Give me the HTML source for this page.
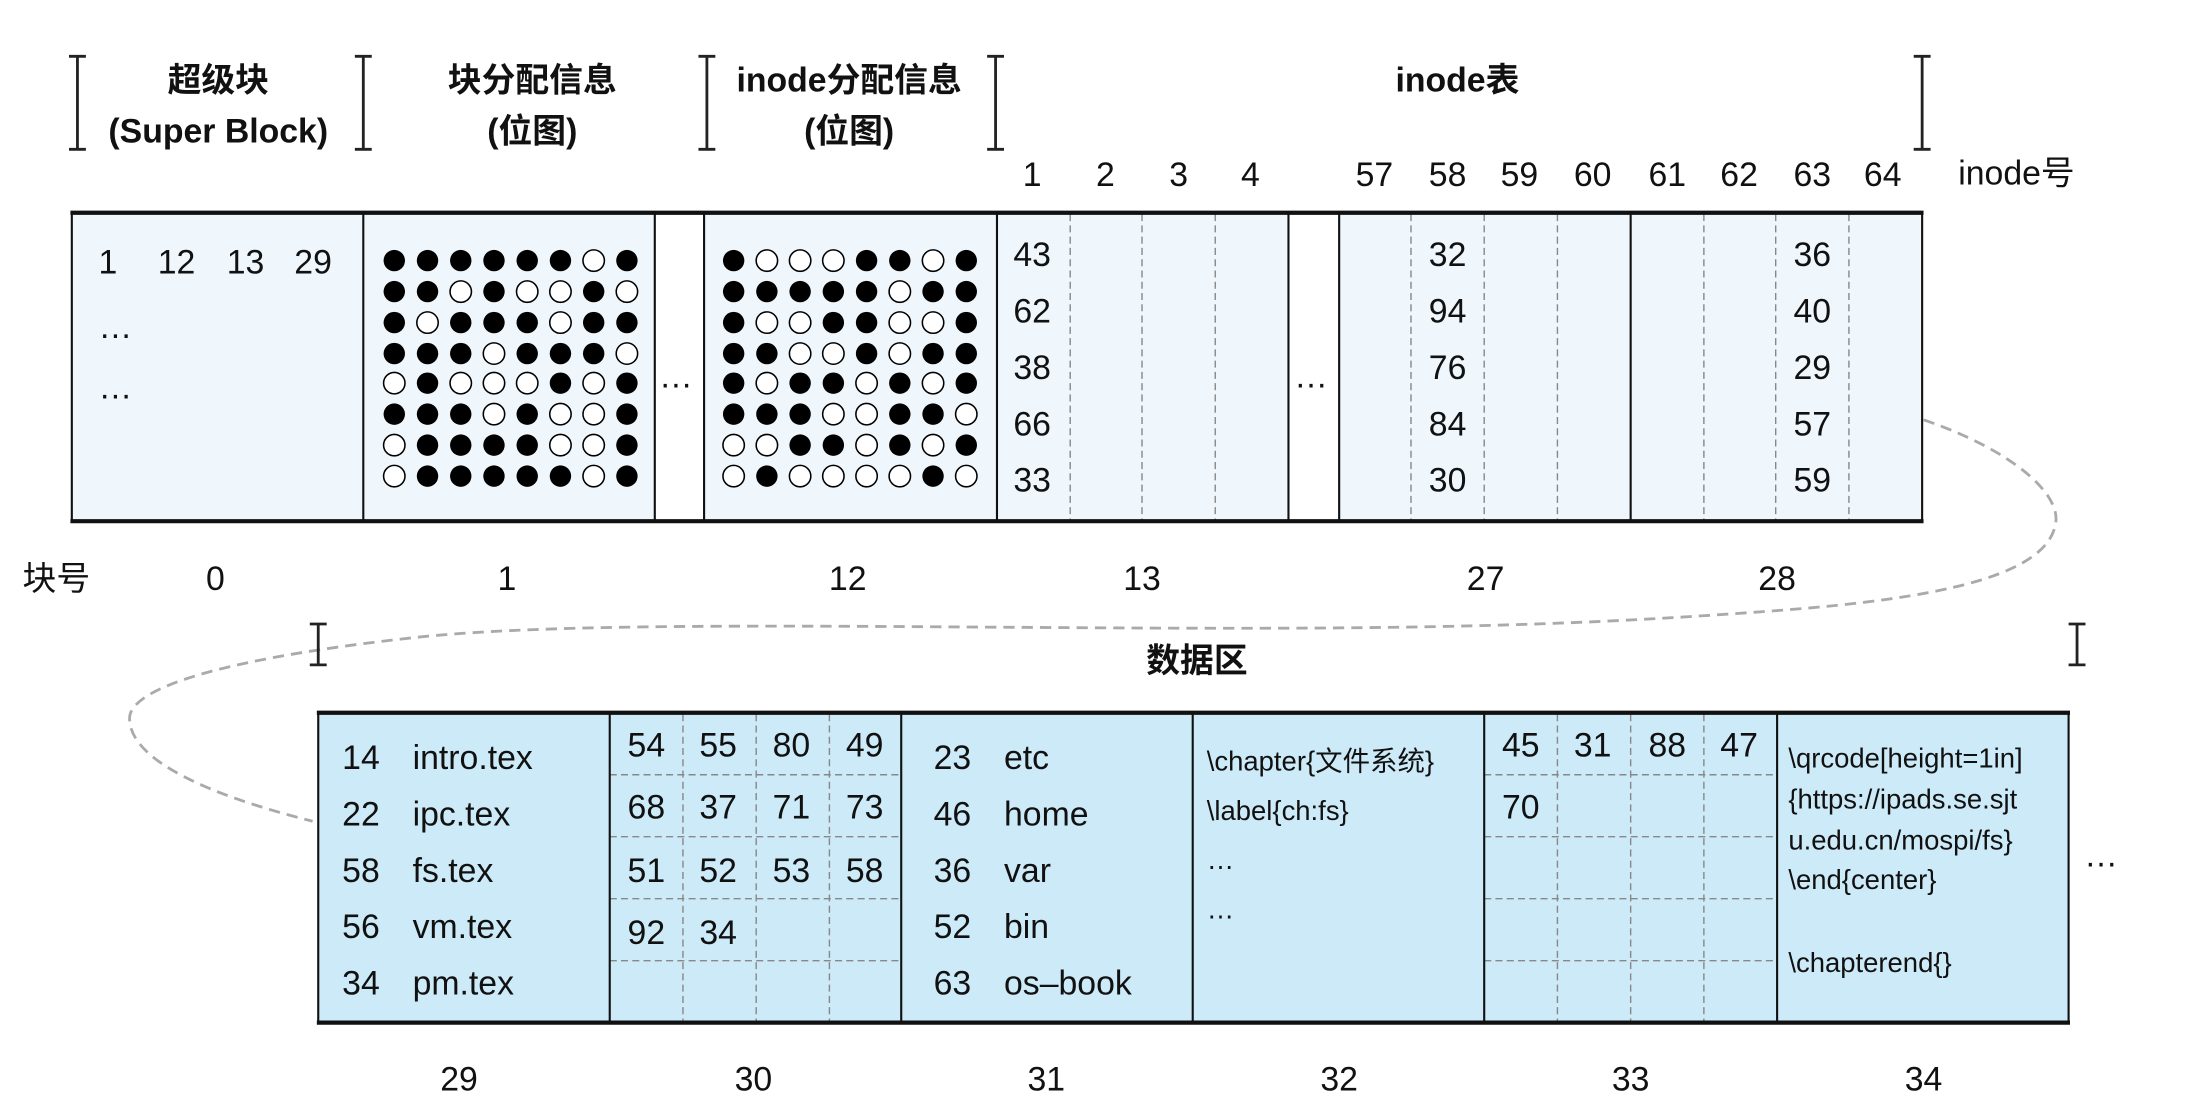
<!DOCTYPE html>
<html><head><meta charset="utf-8"><style>
html,body{margin:0;padding:0;background:#fff}
svg{display:block}
text{font-family:"Liberation Sans","Noto Sans CJK SC",sans-serif;fill:#111}
.b{font-weight:bold}
.f{fill:#000}
.e{fill:#fff;stroke:#000;stroke-width:1.1}
.dl{stroke:#888;stroke-width:1;stroke-dasharray:5 3}
.sl{stroke:#111;stroke-width:1.5}
</style></head><body>
<svg width="2208" height="1110" viewBox="0 0 1568 788" preserveAspectRatio="none" xmlns="http://www.w3.org/2000/svg">
<rect width="1568" height="788" fill="#fff"/>
<g stroke="#222" stroke-width="2">
<path d="M49,40H61M55,40V106M49,106H61"/>
<path d="M252,40H264M258,40V106M252,106H264"/>
<path d="M496,40H508M502,40V106M496,106H508"/>
<path d="M701,40H713M707,40V106M701,106H713"/>
<path d="M1359,40H1371M1365,40V106M1359,106H1371"/>
</g>
<g font-size="24" text-anchor="middle">
<text class="b" x="155" y="65">超级块</text>
<text class="b" x="155" y="101">(Super Block)</text>
<text class="b" x="378" y="65">块分配信息</text>
<text class="b" x="378" y="101">(位图)</text>
<text class="b" x="603" y="65">inode分配信息</text>
<text class="b" x="603" y="101">(位图)</text>
<text class="b" x="1035" y="65">inode表</text>
</g>
<g font-size="24" text-anchor="middle">
<text x="733" y="132">1</text><text x="785" y="132">2</text><text x="837" y="132">3</text><text x="888" y="132">4</text>
<text x="976" y="132">57</text><text x="1028" y="132">58</text><text x="1079" y="132">59</text><text x="1131" y="132">60</text>
<text x="1184" y="132">61</text><text x="1235" y="132">62</text><text x="1287" y="132">63</text><text x="1337" y="132">64</text>
<text x="1432" y="131">inode号</text>
</g>
<rect x="51" y="151" width="1314" height="219" fill="#eff7fd"/>
<rect x="465" y="151" width="35" height="219" fill="#fff"/>
<rect x="915" y="151" width="36" height="219" fill="#fff"/>
<g class="dl">
<path d="M760,152V369M811,152V369M863,152V369M1002,152V369M1054,152V369M1106,152V369M1210,152V369M1261,152V369M1313,152V369"/>
</g>
<g class="sl">
<path d="M51,151V370M258,151V370M465,151V370M500,151V370M708,151V370M915,151V370M951,151V370M1158,151V370M1365,151V370"/>
</g>
<path d="M50,151H1366M50,370H1366" stroke="#111" stroke-width="3"/>
<g font-size="24">
<text x="70" y="194">1</text><text x="112" y="194">12</text><text x="161" y="194">13</text><text x="209" y="194">29</text>
<text x="70" y="240">…</text><text x="70" y="283">…</text>
<text x="468" y="275">…</text><text x="919" y="275">…</text>
</g>
<g font-size="24" text-anchor="middle">
<text x="733" y="189">43</text><text x="733" y="229">62</text><text x="733" y="269">38</text><text x="733" y="309">66</text><text x="733" y="349">33</text>
<text x="1028" y="189">32</text><text x="1028" y="229">94</text><text x="1028" y="269">76</text><text x="1028" y="309">84</text><text x="1028" y="349">30</text>
<text x="1287" y="189">36</text><text x="1287" y="229">40</text><text x="1287" y="269">29</text><text x="1287" y="309">57</text><text x="1287" y="349">59</text>
</g>
<g>
<circle cx="280" cy="185" r="7.6" class="f"/><circle cx="303.6" cy="185" r="7.6" class="f"/><circle cx="327.2" cy="185" r="7.6" class="f"/><circle cx="350.8" cy="185" r="7.6" class="f"/><circle cx="374.4" cy="185" r="7.6" class="f"/><circle cx="398" cy="185" r="7.6" class="f"/><circle cx="421.6" cy="185" r="7.6" class="e"/><circle cx="445.2" cy="185" r="7.6" class="f"/>
<circle cx="280" cy="207" r="7.6" class="f"/><circle cx="303.6" cy="207" r="7.6" class="f"/><circle cx="327.2" cy="207" r="7.6" class="e"/><circle cx="350.8" cy="207" r="7.6" class="f"/><circle cx="374.4" cy="207" r="7.6" class="e"/><circle cx="398" cy="207" r="7.6" class="e"/><circle cx="421.6" cy="207" r="7.6" class="f"/><circle cx="445.2" cy="207" r="7.6" class="e"/>
<circle cx="280" cy="229" r="7.6" class="f"/><circle cx="303.6" cy="229" r="7.6" class="e"/><circle cx="327.2" cy="229" r="7.6" class="f"/><circle cx="350.8" cy="229" r="7.6" class="f"/><circle cx="374.4" cy="229" r="7.6" class="f"/><circle cx="398" cy="229" r="7.6" class="e"/><circle cx="421.6" cy="229" r="7.6" class="f"/><circle cx="445.2" cy="229" r="7.6" class="f"/>
<circle cx="280" cy="251" r="7.6" class="f"/><circle cx="303.6" cy="251" r="7.6" class="f"/><circle cx="327.2" cy="251" r="7.6" class="f"/><circle cx="350.8" cy="251" r="7.6" class="e"/><circle cx="374.4" cy="251" r="7.6" class="f"/><circle cx="398" cy="251" r="7.6" class="f"/><circle cx="421.6" cy="251" r="7.6" class="f"/><circle cx="445.2" cy="251" r="7.6" class="e"/>
<circle cx="280" cy="272" r="7.6" class="e"/><circle cx="303.6" cy="272" r="7.6" class="f"/><circle cx="327.2" cy="272" r="7.6" class="e"/><circle cx="350.8" cy="272" r="7.6" class="e"/><circle cx="374.4" cy="272" r="7.6" class="e"/><circle cx="398" cy="272" r="7.6" class="f"/><circle cx="421.6" cy="272" r="7.6" class="e"/><circle cx="445.2" cy="272" r="7.6" class="f"/>
<circle cx="280" cy="294" r="7.6" class="f"/><circle cx="303.6" cy="294" r="7.6" class="f"/><circle cx="327.2" cy="294" r="7.6" class="f"/><circle cx="350.8" cy="294" r="7.6" class="e"/><circle cx="374.4" cy="294" r="7.6" class="f"/><circle cx="398" cy="294" r="7.6" class="e"/><circle cx="421.6" cy="294" r="7.6" class="e"/><circle cx="445.2" cy="294" r="7.6" class="f"/>
<circle cx="280" cy="316" r="7.6" class="e"/><circle cx="303.6" cy="316" r="7.6" class="f"/><circle cx="327.2" cy="316" r="7.6" class="f"/><circle cx="350.8" cy="316" r="7.6" class="f"/><circle cx="374.4" cy="316" r="7.6" class="f"/><circle cx="398" cy="316" r="7.6" class="e"/><circle cx="421.6" cy="316" r="7.6" class="e"/><circle cx="445.2" cy="316" r="7.6" class="f"/>
<circle cx="280" cy="338" r="7.6" class="e"/><circle cx="303.6" cy="338" r="7.6" class="f"/><circle cx="327.2" cy="338" r="7.6" class="f"/><circle cx="350.8" cy="338" r="7.6" class="f"/><circle cx="374.4" cy="338" r="7.6" class="f"/><circle cx="398" cy="338" r="7.6" class="f"/><circle cx="421.6" cy="338" r="7.6" class="e"/><circle cx="445.2" cy="338" r="7.6" class="f"/>
</g>
<g>
<circle cx="521" cy="185" r="7.6" class="f"/><circle cx="544.6" cy="185" r="7.6" class="e"/><circle cx="568.2" cy="185" r="7.6" class="e"/><circle cx="591.8" cy="185" r="7.6" class="e"/><circle cx="615.4" cy="185" r="7.6" class="f"/><circle cx="639" cy="185" r="7.6" class="f"/><circle cx="662.6" cy="185" r="7.6" class="e"/><circle cx="686.2" cy="185" r="7.6" class="f"/>
<circle cx="521" cy="207" r="7.6" class="f"/><circle cx="544.6" cy="207" r="7.6" class="f"/><circle cx="568.2" cy="207" r="7.6" class="f"/><circle cx="591.8" cy="207" r="7.6" class="f"/><circle cx="615.4" cy="207" r="7.6" class="f"/><circle cx="639" cy="207" r="7.6" class="e"/><circle cx="662.6" cy="207" r="7.6" class="f"/><circle cx="686.2" cy="207" r="7.6" class="f"/>
<circle cx="521" cy="229" r="7.6" class="f"/><circle cx="544.6" cy="229" r="7.6" class="e"/><circle cx="568.2" cy="229" r="7.6" class="e"/><circle cx="591.8" cy="229" r="7.6" class="f"/><circle cx="615.4" cy="229" r="7.6" class="f"/><circle cx="639" cy="229" r="7.6" class="e"/><circle cx="662.6" cy="229" r="7.6" class="e"/><circle cx="686.2" cy="229" r="7.6" class="f"/>
<circle cx="521" cy="251" r="7.6" class="f"/><circle cx="544.6" cy="251" r="7.6" class="f"/><circle cx="568.2" cy="251" r="7.6" class="e"/><circle cx="591.8" cy="251" r="7.6" class="e"/><circle cx="615.4" cy="251" r="7.6" class="f"/><circle cx="639" cy="251" r="7.6" class="e"/><circle cx="662.6" cy="251" r="7.6" class="f"/><circle cx="686.2" cy="251" r="7.6" class="f"/>
<circle cx="521" cy="272" r="7.6" class="f"/><circle cx="544.6" cy="272" r="7.6" class="e"/><circle cx="568.2" cy="272" r="7.6" class="f"/><circle cx="591.8" cy="272" r="7.6" class="f"/><circle cx="615.4" cy="272" r="7.6" class="e"/><circle cx="639" cy="272" r="7.6" class="f"/><circle cx="662.6" cy="272" r="7.6" class="e"/><circle cx="686.2" cy="272" r="7.6" class="f"/>
<circle cx="521" cy="294" r="7.6" class="f"/><circle cx="544.6" cy="294" r="7.6" class="f"/><circle cx="568.2" cy="294" r="7.6" class="f"/><circle cx="591.8" cy="294" r="7.6" class="e"/><circle cx="615.4" cy="294" r="7.6" class="e"/><circle cx="639" cy="294" r="7.6" class="f"/><circle cx="662.6" cy="294" r="7.6" class="f"/><circle cx="686.2" cy="294" r="7.6" class="e"/>
<circle cx="521" cy="316" r="7.6" class="e"/><circle cx="544.6" cy="316" r="7.6" class="e"/><circle cx="568.2" cy="316" r="7.6" class="f"/><circle cx="591.8" cy="316" r="7.6" class="f"/><circle cx="615.4" cy="316" r="7.6" class="e"/><circle cx="639" cy="316" r="7.6" class="f"/><circle cx="662.6" cy="316" r="7.6" class="e"/><circle cx="686.2" cy="316" r="7.6" class="f"/>
<circle cx="521" cy="338" r="7.6" class="e"/><circle cx="544.6" cy="338" r="7.6" class="f"/><circle cx="568.2" cy="338" r="7.6" class="e"/><circle cx="591.8" cy="338" r="7.6" class="e"/><circle cx="615.4" cy="338" r="7.6" class="e"/><circle cx="639" cy="338" r="7.6" class="e"/><circle cx="662.6" cy="338" r="7.6" class="f"/><circle cx="686.2" cy="338" r="7.6" class="e"/>
</g>
<g font-size="24" text-anchor="middle">
<text x="40" y="419">块号</text><text x="153" y="419">0</text><text x="360" y="419">1</text><text x="602" y="419">12</text>
<text x="811" y="419">13</text><text x="1055" y="419">27</text><text x="1262" y="419">28</text>
</g>
<path d="M1366,298 C1430,320 1462,350 1460,370 C1456,410 1370,425 1268,433 C1150,442 1050,446 880,446 C650,446 420,440 300,452 C150,468 92,490 92,510 C92,540 150,565 222,583" fill="none" stroke="#aaa" stroke-width="2" stroke-dasharray="8 5"/>
<g stroke="#222" stroke-width="2">
<path d="M220,443H232M226,443V472M220,472H232"/>
<path d="M1469,443H1481M1475,443V472M1469,472H1481"/>
</g>
<text class="b" x="850" y="477" font-size="24" text-anchor="middle">数据区</text>
<rect x="226" y="506" width="1243" height="220" fill="#cdeaf8"/>
<g class="dl">
<path d="M485,507V725M537,507V725M589,507V725M1106,507V725M1158,507V725M1210,507V725"/>
<path d="M433,550H640M433,594H640M433,638H640M433,682H640M1054,550H1262M1054,594H1262M1054,638H1262M1054,682H1262"/>
</g>
<g class="sl">
<path d="M226,506V726M433,506V726M640,506V726M847,506V726M1054,506V726M1262,506V726M1469,506V726"/>
</g>
<path d="M225,506H1470M225,726H1470" stroke="#111" stroke-width="3"/>
<g font-size="24">
<text x="243" y="546">14</text><text x="293" y="546">intro.tex</text>
<text x="243" y="586">22</text><text x="293" y="586">ipc.tex</text>
<text x="243" y="626">58</text><text x="293" y="626">fs.tex</text>
<text x="243" y="666">56</text><text x="293" y="666">vm.tex</text>
<text x="243" y="706">34</text><text x="293" y="706">pm.tex</text>
<text x="663" y="546">23</text><text x="713" y="546">etc</text>
<text x="663" y="586">46</text><text x="713" y="586">home</text>
<text x="663" y="626">36</text><text x="713" y="626">var</text>
<text x="663" y="666">52</text><text x="713" y="666">bin</text>
<text x="663" y="706">63</text><text x="713" y="706">os–book</text>
</g>
<g font-size="24" text-anchor="middle">
<text x="459" y="537">54</text><text x="510" y="537">55</text><text x="562" y="537">80</text><text x="614" y="537">49</text>
<text x="459" y="581">68</text><text x="510" y="581">37</text><text x="562" y="581">71</text><text x="614" y="581">73</text>
<text x="459" y="626">51</text><text x="510" y="626">52</text><text x="562" y="626">53</text><text x="614" y="626">58</text>
<text x="459" y="670">92</text><text x="510" y="670">34</text>
<text x="1080" y="537">45</text><text x="1131" y="537">31</text><text x="1184" y="537">88</text><text x="1235" y="537">47</text>
<text x="1080" y="581">70</text>
</g>
<g font-size="19.5">
<text x="857" y="547">\chapter{文件系统}</text>
<text x="857" y="582">\label{ch:fs}</text>
<text x="857" y="617">…</text>
<text x="857" y="652">…</text>
<text x="1270" y="545">\qrcode[height=1in]</text>
<text x="1270" y="574">{https://ipads.se.sjt</text>
<text x="1270" y="603">u.edu.cn/mospi/fs}</text>
<text x="1270" y="631">\end{center}</text>
<text x="1270" y="690">\chapterend{}</text>
</g>
<text x="1480" y="615" font-size="24">…</text>
<g font-size="24" text-anchor="middle">
<text x="326" y="774">29</text><text x="535" y="774">30</text><text x="743" y="774">31</text>
<text x="951" y="774">32</text><text x="1158" y="774">33</text><text x="1366" y="774">34</text>
</g>
</svg>
</body></html>
